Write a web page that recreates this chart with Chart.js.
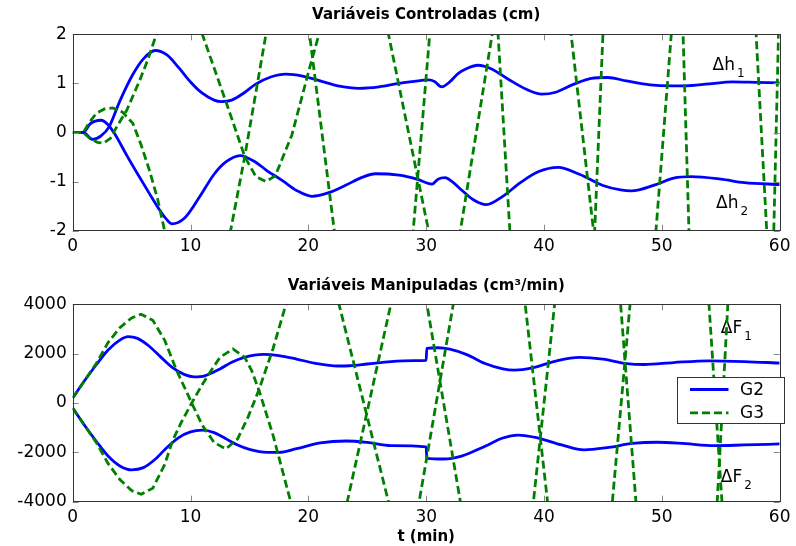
<!DOCTYPE html>
<html>
<head>
<meta charset="utf-8">
<script src="https://cdn.jsdelivr.net/npm/chart.js@4.4.0/dist/chart.umd.min.js"></script>
<style>
  body { margin: 0; background: #fff; }
  #wrap { position: relative; width: 796px; height: 546px; }
  canvas { position: absolute; left: 0; }
  #top { top: 0; }
  #bot { top: 262px; }
</style>
</head>
<body>
<div id="wrap">
  <canvas id="top" width="796" height="262" style="width:796px;height:262px"></canvas>
  <canvas id="bot" width="796" height="284" style="width:796px;height:284px"></canvas>
</div>
<script>
// ---- Variáveis Controladas (cm) ----
const tG2h1 = [0, 0.9, 1.7, 2.4, 3.1, 4.0, 5.1, 6.0, 7.0, 8.0, 9.0, 10.0, 11.0, 12.0, 12.6, 13.5, 14.5, 15.5, 16.8, 18.1, 19.5, 21.0, 22.5, 24.3, 26.0, 27.7, 29.0, 30.2, 30.7, 31.3, 32.0, 32.7, 33.5, 34.4, 35.5, 37.0, 38.5, 39.8, 41.0, 42.5, 44.0, 45.4, 47.0, 49.0, 50.8, 52.0, 54.0, 56.0, 58.0, 60.0];
const vG2h1 = [0, 0, -0.14, -0.07, 0.12, 0.64, 1.18, 1.5, 1.67, 1.58, 1.32, 1.03, 0.8, 0.66, 0.63, 0.66, 0.8, 0.98, 1.13, 1.19, 1.15, 1.05, 0.95, 0.9, 0.93, 1.0, 1.04, 1.07, 1.04, 0.93, 1.03, 1.2, 1.31, 1.37, 1.3, 1.08, 0.88, 0.78, 0.82, 0.98, 1.1, 1.12, 1.05, 0.97, 0.95, 0.95, 0.99, 1.03, 1.02, 1.01];

const tG2h2 = [0, 0.9, 1.5, 2.4, 3.0, 3.6, 4.6, 5.5, 6.5, 7.3, 7.9, 8.4, 9.5, 10.8, 12.0, 13.0, 14.2, 15.5, 16.5, 17.8, 19.0, 20.3, 21.8, 23.2, 24.5, 25.7, 27.7, 29.2, 30.5, 31.0, 31.6, 32.2, 33.0, 34.0, 35.1, 36.5, 38.0, 39.5, 41.2, 43.0, 45.0, 46.5, 47.4, 49.5, 51.0, 52.5, 55.0, 57.0, 60.0];
const vG2h2 = [0, 0, 0.18, 0.25, 0.16, -0.04, -0.47, -0.84, -1.24, -1.55, -1.75, -1.86, -1.74, -1.3, -0.85, -0.6, -0.47, -0.6, -0.78, -0.98, -1.18, -1.3, -1.22, -1.07, -0.92, -0.84, -0.87, -0.95, -1.05, -0.95, -0.92, -1.0, -1.17, -1.37, -1.47, -1.3, -1.02, -0.8, -0.71, -0.85, -1.08, -1.17, -1.19, -1.06, -0.93, -0.9, -0.95, -1.02, -1.06];

const tG3h1 = [0, 0.9, 1.5, 2.1, 2.6, 3.2, 3.7, 4.6, 5.7, 6.4, 7.1, 9.0, 11.0, 13.0, 14.6, 15.55, 16.4, 17.2, 18.6, 20.1, 20.9, 23.85, 26.8, 30.2, 31.55, 32.9, 35.6, 38.95, 42.3, 44.2, 46.85, 49.5, 50.8, 54.4, 58.0, 58.9, 60];
const vG3h1 = [0, 0, -0.13, -0.2, -0.22, -0.12, 0.1, 0.46, 1.07, 1.5, 2, 3, 2, 0.63, -0.49, -0.9, -1.0, -0.88, -0.05, 1.31, 2, 4.5, 2, -2, -3, -2, 2, 6, 2, -2, -6, -2, 2, 10, 2, -2, -5];

const tG3h2 = [0, 0.9, 1.4, 2.0, 2.7, 3.4, 4.2, 5.1, 5.8, 6.5, 7.2, 7.8, 10.6, 13.4, 14.6, 16.4, 18.25, 20.1, 22.2, 25.55, 28.9, 30.3, 33.2, 36.1, 37.1, 40.7, 44.3, 45.0, 48.4, 51.8, 52.3, 55.9, 59.5, 59.9, 60];
const vG3h2 = [0, 0, 0.2, 0.39, 0.48, 0.5, 0.42, 0.19, -0.25, -0.76, -1.35, -2, -3.5, -2, -0.49, 2, 3.5, 2, -2, -5, -2, 2, 6, 2, -2, -9, -2, 2, 12, 2, -2, -16, -2, 2, 3];

// ---- Variáveis Manipuladas (cm³/min) ----
const tG2F1 = [0, 1, 2, 3, 4, 4.7, 5.5, 6.5, 7.5, 8.5, 9.5, 10.3, 11.2, 12.5, 13.5, 14.5, 16.2, 17.5, 19, 20.5, 22.5, 23.5, 25, 27, 29, 30, 30.05, 31, 32, 33.5, 35, 36.5, 37.5, 39, 41, 43, 45, 47, 48.5, 51, 54, 57, 60];
const vG2F1 = [200, 900, 1550, 2150, 2550, 2690, 2620, 2300, 1850, 1420, 1150, 1060, 1100, 1380, 1650, 1840, 1970, 1920, 1780, 1620, 1500, 1510, 1580, 1680, 1720, 1730, 2215, 2240, 2180, 1950, 1600, 1380, 1330, 1420, 1700, 1850, 1780, 1600, 1560, 1640, 1710, 1680, 1620];

const tG2F2 = [0, 1, 2, 3, 4, 5, 6, 7, 8, 9, 10, 11, 12, 13, 14, 15, 16.5, 17.5, 19, 21, 23.2, 25, 27, 30, 30.05, 31.5, 33, 35, 36.5, 37.8, 39.5, 41.5, 43.4, 45.5, 47.5, 49.6, 52, 54.4, 57, 60];
const vG2F2 = [-200, -900, -1550, -2150, -2550, -2710, -2620, -2280, -1800, -1400, -1170, -1100, -1200, -1450, -1700, -1880, -2000, -2000, -1850, -1620, -1540, -1600, -1730, -1780, -2240, -2270, -2150, -1750, -1420, -1300, -1420, -1700, -1900, -1800, -1640, -1590, -1650, -1730, -1700, -1660];

const tG3F1 = [0, 1, 2, 3, 4, 5, 5.8, 6.8, 7.8, 8.8, 10.1, 11, 12, 13, 14, 14.9, 15.8, 17, 18.1, 20.4, 22.6, 26.8, 28.1, 29.4, 32.3, 35.3, 38.4, 40.3, 43, 45.8, 47.3, 50.6, 54.0, 55.1, 58, 60];
const vG3F1 = [200, 900, 1600, 2450, 3050, 3450, 3600, 3350, 2550, 1340, 0, -900, -1600, -1865, -1450, -550, 527, 2200, 4000, 7000, 4000, -4000, -6000, -4000, 4000, 12000, 4000, -4000, -15000, -4000, 4000, 25000, 4000, -4000, -30000, -20000];

const tG3F2 = [0, 1, 2, 3, 4, 5, 5.8, 6.8, 7.8, 8.5, 9.2, 10.1, 11, 11.5, 12.5, 13.6, 14.6, 15.2, 15.8, 17, 18.5, 20.9, 23.3, 27.0, 28.5, 30.06, 32.9, 36, 39.1, 40.9, 43.7, 46.5, 47.8, 51.2, 54.7, 55.6, 58.7, 60];
const vG3F2 = [-200, -900, -1600, -2450, -3100, -3550, -3700, -3450, -2500, -1500, -800, 0, 750, 1135, 1850, 2190, 1850, 1300, 527, -1300, -4000, -7000, -4000, 4000, 7000, 4000, -4000, -12000, -4000, 4000, 16000, 4000, -4000, -25000, -4000, 4000, 35000, 25000];

const xTicks = [0, 10, 20, 30, 40, 50, 60];
const hTicks = [-2, -1, 0, 1, 2];
const fTicks = [-4000, -2000, 0, 2000, 4000];
const seriesNames = ['G2', 'G3'];

Chart.defaults.font.family = '"DejaVu Sans", sans-serif';
Chart.defaults.color = '#000';

const zip = (ts, vs) => ts.map((t, i) => ({x: t, y: vs[i]}));

const blueLine = (label, ts, vs) => ({
    label: label, data: zip(ts, vs), order: 1,
    borderColor: '#0000ff', borderWidth: 2.8, pointRadius: 0,
    cubicInterpolationMode: 'monotone', borderJoinStyle: 'round'
});
const greenLine = (label, ts, vs) => ({
    label: label, data: zip(ts, vs), order: 0,
    borderColor: '#008000', borderWidth: 2.8, pointRadius: 0,
    borderDash: [8, 4], tension: 0
});

// box round the plot with small inward ticks, MATLAB style
const frame = {
    id: 'frame',
    afterDatasetsDraw(chart) {
        const {ctx, chartArea: a, scales: {x, y}} = chart;
        ctx.save();
        ctx.strokeStyle = '#888';
        ctx.lineWidth = 1;
        ctx.beginPath();
        x.ticks.forEach(t => {
            const px = Math.round(x.getPixelForValue(t.value)) + 0.5;
            ctx.moveTo(px, a.bottom); ctx.lineTo(px, a.bottom - 6);
            ctx.moveTo(px, a.top); ctx.lineTo(px, a.top + 6);
        });
        y.ticks.forEach(t => {
            const py = Math.round(y.getPixelForValue(t.value)) + 0.5;
            ctx.moveTo(a.left, py); ctx.lineTo(a.left + 6, py);
            ctx.moveTo(a.right, py); ctx.lineTo(a.right - 6, py);
        });
        ctx.stroke();
        ctx.strokeStyle = '#333';
        ctx.strokeRect(Math.round(a.left) + 0.5, Math.round(a.top) + 0.5, Math.round(a.width), Math.round(a.height));
        ctx.restore();
    }
};

// Δh1, Δh2, ΔF1, ΔF2 tags
const tags = {
    id: 'tags',
    beforeDatasetsDraw(chart, args, opts) {
        const {ctx, scales: {x, y}} = chart;
        ctx.save();
        ctx.fillStyle = '#000';
        ctx.textAlign = 'left';
        ctx.textBaseline = 'alphabetic';
        (opts.items || []).forEach(([t, v, main, sub]) => {
            const px = x.getPixelForValue(t), py = y.getPixelForValue(v);
            ctx.font = '17px "DejaVu Sans"';
            ctx.fillText(main, px, py);
            const w = ctx.measureText(main).width;
            ctx.font = '12px "DejaVu Sans"';
            ctx.fillText(sub, px + w + 2, py + 7);
        });
        ctx.restore();
    }
};

// legend box inside the lower plot
const keyBox = {
    id: 'keyBox',
    afterDraw(chart, args, opts) {
        if (!opts.show) return;
        const {ctx, chartArea: a} = chart;
        const L = Math.round(a.right - 103) + 0.5, T = Math.round(a.top + 73) + 0.5;
        ctx.save();
        ctx.fillStyle = '#fff';
        ctx.fillRect(L, T, 107, 46);
        ctx.strokeStyle = '#333';
        ctx.lineWidth = 1;
        ctx.strokeRect(L, T, 107, 46);
        const sets = [chart.data.datasets[0], chart.data.datasets[2]];
        sets.forEach((ds, i) => {
            const yy = T + 12 + i * 23.4;
            ctx.beginPath();
            ctx.strokeStyle = ds.borderColor;
            ctx.lineWidth = ds.borderWidth;
            ctx.setLineDash(ds.borderDash || []);
            ctx.moveTo(L + 12.5, yy);
            ctx.lineTo(L + 51, yy);
            ctx.stroke();
            ctx.setLineDash([]);
            ctx.fillStyle = '#000';
            ctx.font = '17px "DejaVu Sans"';
            ctx.textBaseline = 'middle';
            ctx.fillText(ds.label, L + 62.5, yy + 1);
        });
        ctx.restore();
    }
};

const makeOptions = (o) => ({
    responsive: false,
    animation: false,
    devicePixelRatio: 1,
    layout: { padding: { left: 0, right: 13.5, top: 0, bottom: 0 } },
    plugins: {
        legend: { display: false },
        tooltip: { enabled: false },
        title: {
            display: true, text: o.title, fullSize: false, color: '#000',
            font: { size: 15, weight: 'bold' }, padding: o.titlePad
        },
        tags: { items: o.tags },
        keyBox: { show: o.key }
    },
    scales: {
        x: {
            type: 'linear', min: 0, max: 60,
            afterBuildTicks: s => { s.ticks = xTicks.map(v => ({value: v})); },
            ticks: { color: '#000', font: { size: 17 }, padding: 5.5, maxRotation: 0, callback: v => String(v) },
            grid: { display: false, drawTicks: false },
            border: { display: false },
            title: o.xTitle,
            afterFit: s => { s.height = o.xHeight; }
        },
        y: {
            type: 'linear', min: o.yTicks[0], max: o.yTicks[o.yTicks.length - 1],
            afterBuildTicks: s => { s.ticks = o.yTicks.map(v => ({value: v})); },
            ticks: { color: '#000', font: { size: 17 }, padding: 6, callback: v => String(v) },
            grid: { display: false, drawTicks: false },
            border: { display: false },
            afterFit: s => { s.width = 72.7; }
        }
    }
});

new Chart(document.getElementById('top'), {
    type: 'line',
    data: {
        datasets: [
            blueLine(seriesNames[0], tG2h1, vG2h1),
            blueLine(seriesNames[0], tG2h2, vG2h2),
            greenLine(seriesNames[1], tG3h1, vG3h1),
            greenLine(seriesNames[1], tG3h2, vG3h2)
        ]
    },
    options: makeOptions({
        title: 'Variáveis Controladas (cm)',
        titlePad: { top: 6, bottom: 10.3 },
        yTicks: hTicks,
        xHeight: 31.3,
        xTitle: { display: false },
        key: false,
        tags: [[54.3, 1.27, '\u0394h', '1'], [54.6, -1.54, '\u0394h', '2']]
    }),
    plugins: [frame, tags, keyBox]
});

new Chart(document.getElementById('bot'), {
    type: 'line',
    data: {
        datasets: [
            blueLine(seriesNames[0], tG2F1, vG2F1),
            blueLine(seriesNames[0], tG2F2, vG2F2),
            greenLine(seriesNames[1], tG3F1, vG3F1),
            greenLine(seriesNames[1], tG3F2, vG3F2)
        ]
    },
    options: makeOptions({
        title: 'Variáveis Manipuladas (cm\u00b3/min)',
        titlePad: { top: 15, bottom: 9.3 },
        yTicks: fTicks,
        xHeight: 44.3,
        xTitle: { display: true, text: 't (min)', color: '#000', font: { size: 15, weight: 'bold' }, padding: { top: 0, bottom: 0 } },
        key: true,
        tags: [[55.0, 2825, '\u0394F', '1'], [55.0, -3190, '\u0394F', '2']]
    }),
    plugins: [frame, tags, keyBox]
});
</script>
</body>
</html>
